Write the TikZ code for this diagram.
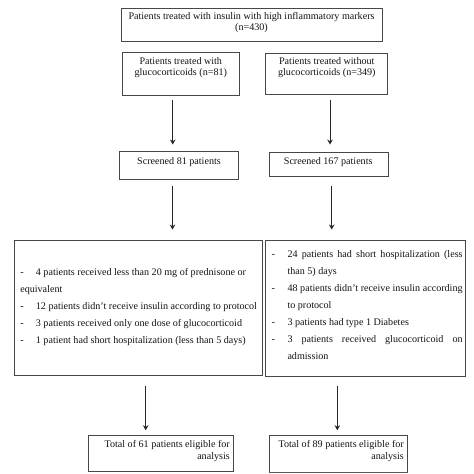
\documentclass[tikz,border=0pt]{standalone}
\usepackage{fontspec}
\setmainfont{Liberation Serif}
\usetikzlibrary{arrows.meta}
\begin{document}
\begin{tikzpicture}[x=1bp,y=-1bp,
  box/.style={draw=black!72, line width=0.9bp, inner sep=0pt, fill=white},
  txt/.style={inner sep=0pt, text=black!92, font=\fontsize{10.1bp}{11.5bp}\selectfont},
  arr/.style={draw=black!85, line width=0.9bp, -{Stealth[length=5bp,width=5.5bp]}}]
\useasboundingbox (0,0) rectangle (474,474);
% boxes
\node[box, minimum width=261bp, minimum height=33.5bp] (top) at (251.5,24.85) {};
\node[box, minimum width=117bp, minimum height=43bp] (b2l) at (180.5,73.65) {};
\node[box, minimum width=122bp, minimum height=41bp] (b2r) at (326.7,73.5) {};
\node[box, minimum width=118.7bp, minimum height=27.3bp] (s1) at (178.65,165.35) {};
\node[box, minimum width=119.3bp, minimum height=24.7bp] (s2) at (328.65,164.35) {};
\node[box, minimum width=247.6bp, minimum height=134.3bp] (e1) at (138.5,307.85) {};
\node[box, minimum width=200bp, minimum height=135.3bp] (e2) at (365.7,308.35) {};
\node[box, minimum width=145.4bp, minimum height=35.3bp] (f1) at (161,453.35) {};
\node[box, minimum width=138.3bp, minimum height=36.3bp] (f2) at (338.15,453.85) {};
\draw[draw=black!65, line width=1.8bp] (f2.south west) -- (f2.south east);
% texts
\node[txt, anchor=north, align=center, font=\fontsize{10.1bp}{11bp}\selectfont] (ttop) at (251.5,12.5)
  {Patients treated with insulin with high inflammatory markers\\(n=430)};
\node[txt, anchor=north, align=center, font=\fontsize{10.1bp}{11bp}\selectfont] (tb2l) at (180.8,57.5)
  {Patients treated with\\glucocorticoids (n=81)};
\node[txt, anchor=north, align=center, font=\fontsize{10.1bp}{11bp}\selectfont] (tb2r) at (326.8,57.5)
  {Patients treated without\\glucocorticoids (n=349)};
\node[txt, anchor=north] (ts1) at (179,157.2) {Screened 81 patients};
\node[txt, anchor=north] (ts2) at (328.2,157) {Screened 167 patients};
\node[txt, anchor=north west] (te1) at (20.1,267.8)
  {\parbox[t]{240bp}{\raggedright\baselineskip=17bp
   \hangindent=15.6bp\hangafter=1\noindent\makebox[15.6bp][l]{-}4 patients received less than 20 mg of prednisone or\\ equivalent\par
   \hangindent=15.6bp\hangafter=1\noindent\makebox[15.6bp][l]{-}12 patients didn't receive insulin according to protocol\par
   \hangindent=15.6bp\hangafter=1\noindent\makebox[15.6bp][l]{-}3 patients received only one dose of glucocorticoid\par
   \hangindent=15.6bp\hangafter=1\noindent\makebox[15.6bp][l]{-}1 patient had short hospitalization (less than 5 days)\par}};
\node[txt, anchor=north west] (te2) at (271.4,249.8)
  {\parbox[t]{191bp}{\baselineskip=17bp
   \hangindent=15.9bp\hangafter=1\noindent\makebox[15.9bp][l]{-}24 patients had short hospitalization (less\linebreak than 5) days\par
   \hangindent=15.9bp\hangafter=1\noindent\makebox[15.9bp][l]{-}48 patients didn't receive insulin according\linebreak to protocol\par
   \hangindent=15.9bp\hangafter=1\noindent\makebox[15.9bp][l]{-}3 patients had type 1 Diabetes\par
   \hangindent=15.9bp\hangafter=1\noindent\makebox[15.9bp][l]{-}3 patients received glucocorticoid on\linebreak admission\par}};
\node[txt, anchor=north east, align=right, font=\fontsize{10.1bp}{12bp}\selectfont] (tf1) at (230,440.5)
  {Total of 61 patients eligible for\\analysis};
\node[txt, anchor=north east, align=right, font=\fontsize{10.1bp}{12bp}\selectfont] (tf2) at (404,440.5)
  {Total of 89 patients eligible for\\analysis};
% arrow x positions
\coordinate (xa) at (172.7,0);
\coordinate (xb) at (330,0);
\coordinate (xc) at (172.5,0);
\coordinate (xd) at (331.7,0);
\coordinate (xe) at (145.7,0);
\coordinate (xf) at (337.3,0);
% arrows
\draw[arr, shorten <=4.85bp, shorten >=6.7bp] (b2l.south -| xa) -- (s1.north -| xa);
\draw[arr, shorten <=6bp, shorten >=7bp] (b2r.south -| xb) -- (s2.north -| xb);
\draw[arr, shorten <=7bp, shorten >=10.7bp] (s1.south -| xc) -- (e1.north -| xc);
\draw[arr, shorten <=9.3bp, shorten >=10.7bp] (s2.south -| xd) -- (e2.north -| xd);
\draw[arr, shorten <=11bp, shorten >=5bp] (e1.south -| xe) -- (f1.north -| xe);
\draw[arr, shorten <=10bp, shorten >=5bp] (e2.south -| xf) -- (f2.north -| xf);
\end{tikzpicture}
\end{document}
